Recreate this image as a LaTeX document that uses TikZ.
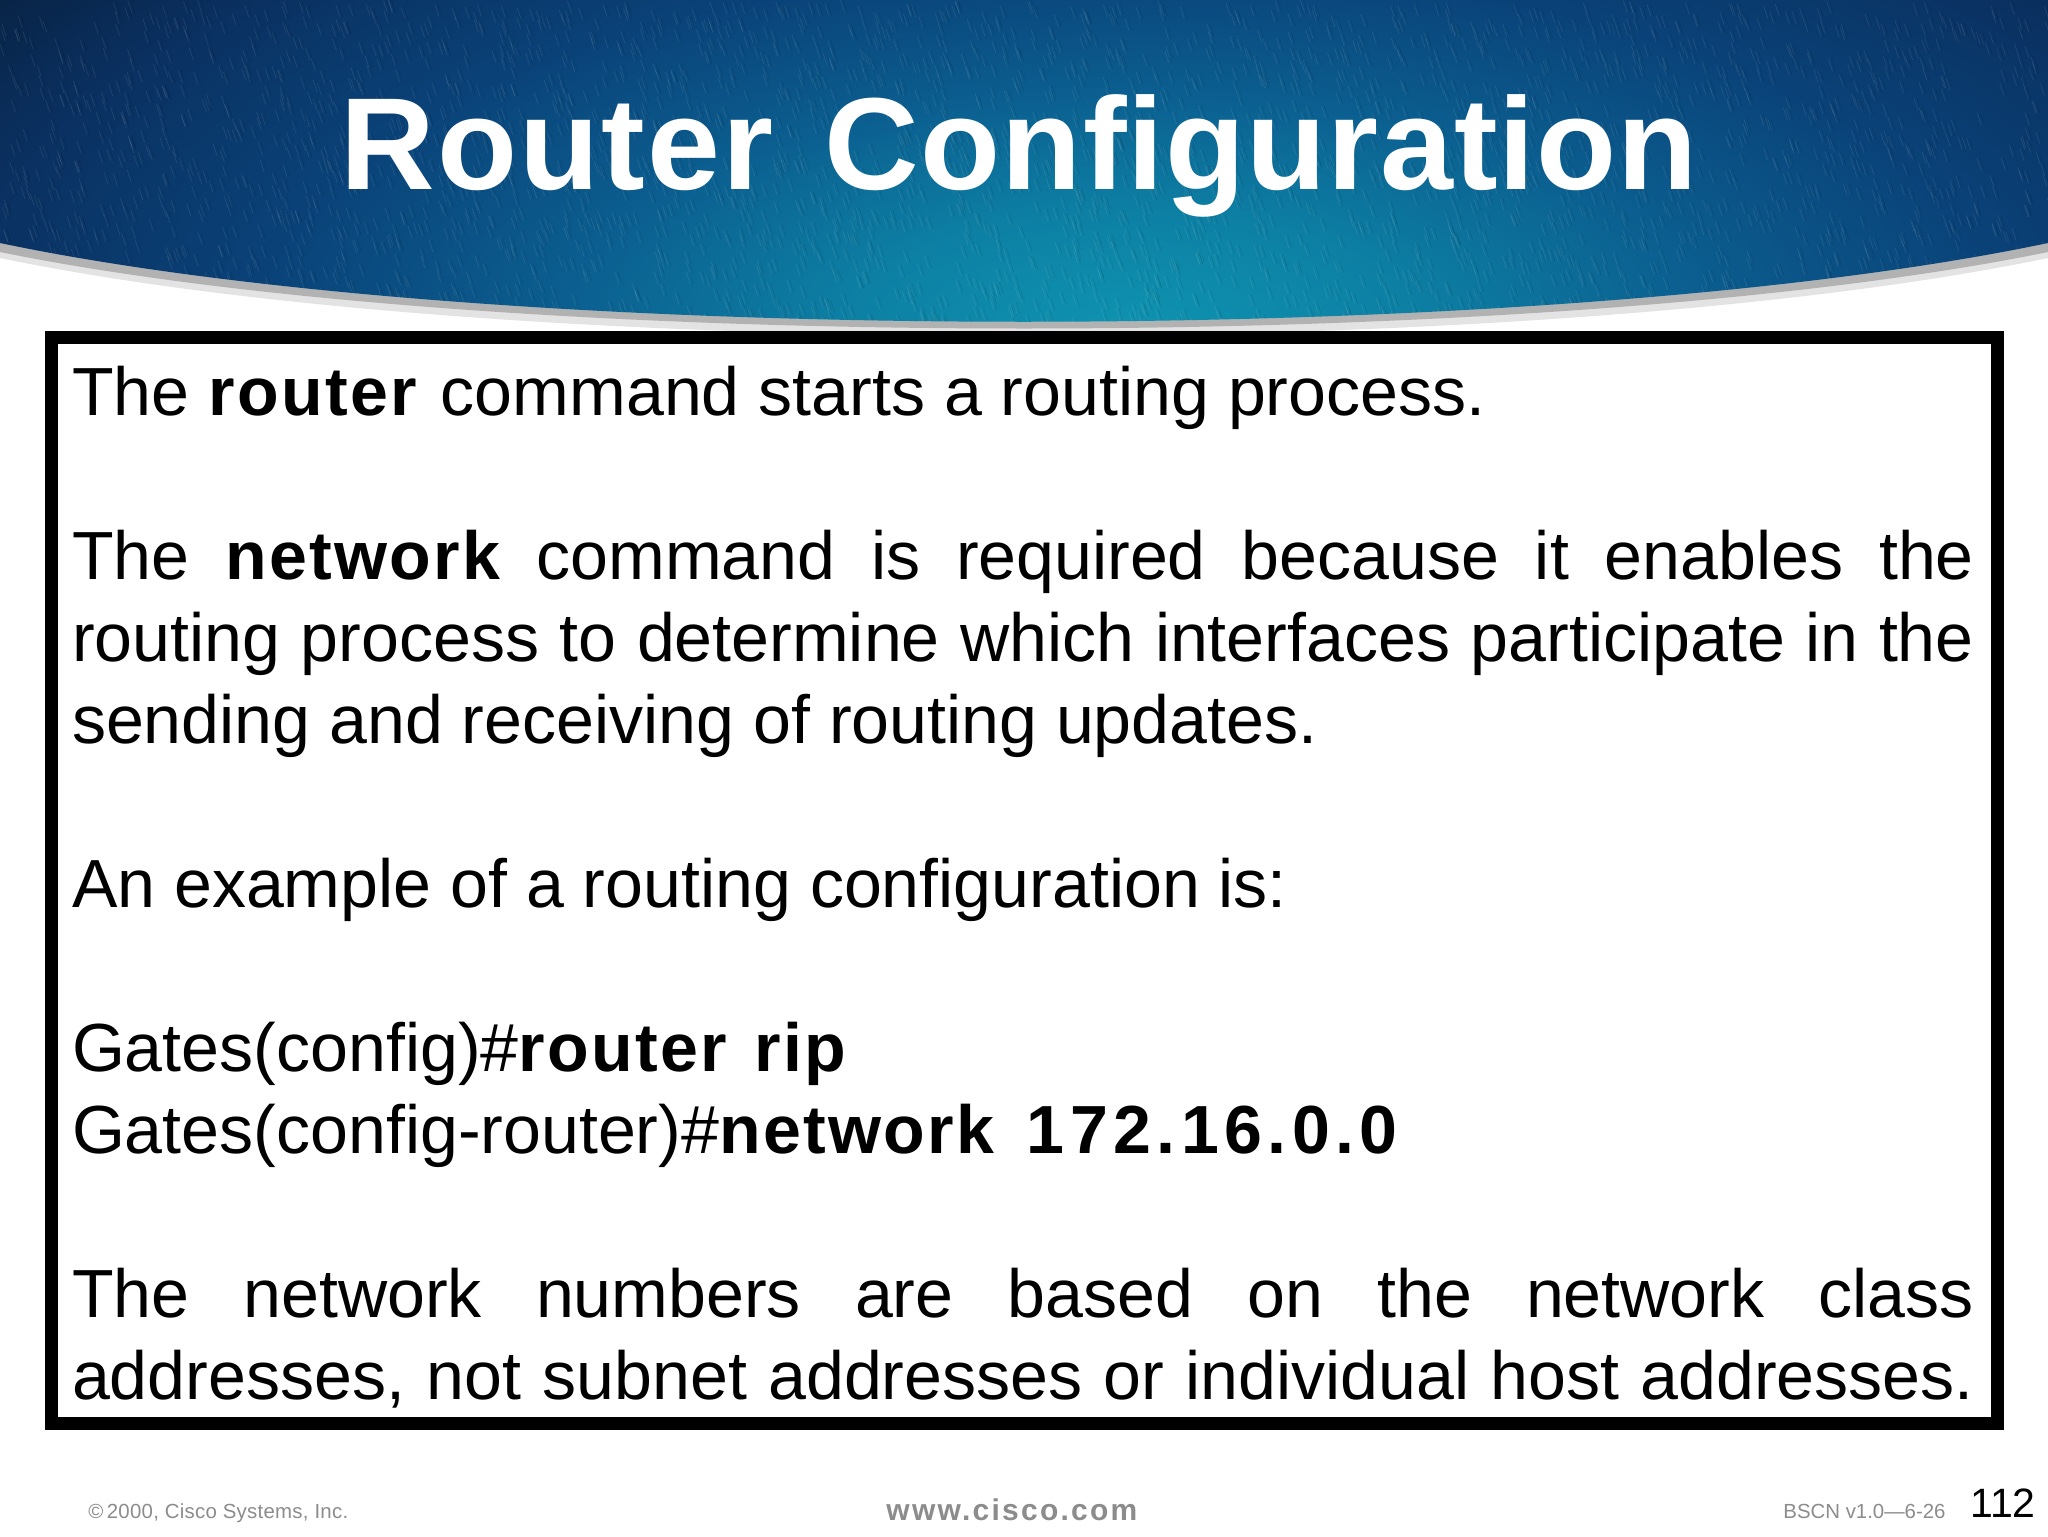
\documentclass[tikz,border=0pt]{standalone}
\usepackage{fontspec}
\setmainfont{Liberation Sans}
\newfontfamily\bodybold[LetterSpace=3.5]{Liberation Sans Bold}
\newfontfamily\bodydigits[LetterSpace=8]{Liberation Sans Bold}
\newfontfamily\titlefont[LetterSpace=1.7]{Liberation Sans Bold}
\newfontfamily\titlefontb[LetterSpace=0.9]{Liberation Sans Bold}
\newfontfamily\wwwfont[LetterSpace=7.5]{Liberation Sans Bold}
\newfontfamily\footfont[LetterSpace=1.3]{Liberation Sans}
\definecolor{bcenter}{HTML}{0F93B0}
\definecolor{bteal}{HTML}{0D80A4}
\definecolor{bmid}{HTML}{0B5C8E}
\definecolor{bnavy}{HTML}{0A4278}
\definecolor{bdeep}{HTML}{0A3060}
\definecolor{bdark}{HTML}{08203F}
\definecolor{footgray}{HTML}{8C8C8C}
\pgfdeclareradialshading{bannershade}{\pgfpoint{0bp}{0bp}}{%
 color(0bp)=(bcenter);color(4.5bp)=(bteal);color(9.5bp)=(bmid);color(14bp)=(bnavy);color(19bp)=(bdeep);color(23bp)=(bdark);color(50bp)=(bdark)}
\tikzset{
 x=0.5pt,y=-0.5pt,
 footer/.style={inner sep=0pt,text=footgray,anchor=base west},
 bodytext/.style={inner sep=0pt,outer sep=0pt,anchor=north west,text width=951pt,align=justify,
   font=\fontsize{34.05}{41}\selectfont},
 weave/.style={line width=0.35pt,opacity=0.09},
}
\newcommand{\bb}[1]{{\bodybold #1}}
\newcommand{\bd}[1]{{\bodydigits #1}}
\begin{document}
\begin{tikzpicture}
\useasboundingbox (0,0) rectangle (2048,1536);
\fill[white] (0,0) rectangle (2048,1536);
% banner shadow
\fill[gray!22] (0,258) .. controls (500,362) and (1548,362) .. (2048,258) -- (2048,240) -- (0,240) -- cycle;
\fill[gray!60] (0,252) .. controls (500,354) and (1548,354) .. (2048,252) -- (2048,240) -- (0,240) -- cycle;
% banner
\begin{scope}
 \clip (0,243) .. controls (500,348) and (1548,348) .. (2048,243) -- (2048,0) -- (0,0) -- cycle;
 \shade[shading=bannershade] (-430,-320) rectangle (2690,980);
 \pgfmathsetseed{7}
 \foreach \i in {1,...,3500}{
   \pgfmathsetmacro{\px}{rnd*2048}
   \pgfmathsetmacro{\py}{rnd*340}
   \draw[weave,white] (\px,\py) -- ++(4,12);
   \draw[weave,black] (\px+3,\py) -- ++(4,12);
 }
\end{scope}
\node[inner sep=0pt,anchor=base,text=white,font=\fontsize{65.5}{70}\titlefont] (title) at (1019,189) {Router\hspace{6.3pt} {\titlefontb Configuration}};
% frame
\node[draw=black,fill=white,line width=6.5pt,outer sep=0pt,minimum width=973pt,minimum height=543pt,inner sep=0pt,anchor=north west] (frame) at (51,337) {};
% body
\node[bodytext] (body) at (72,366) {%
\hyphenpenalty=10000
The \bb{router}\hspace{2.5pt} command starts a routing process.\par
\vspace{41pt}
The \bb{network} command is required because it enables the\linebreak routing process to determine which interfaces participate in the\linebreak sending and receiving of routing updates.\par
\vspace{41pt}
An example of a routing configuration is:\par
\vspace{41pt}
Gates(config)\#\bb{router\hspace{3pt} rip}\par
Gates(config-router)\#\bb{network\hspace{5.5pt} }\bd{172.16.0.0}\par
\vspace{41pt}
The network numbers are based on the network class\linebreak addresses, not subnet addresses or individual host addresses.\hspace*{0pt}\linebreak[4]\par};
% footer
\node[footer,font=\fontsize{10.2}{12}\footfont] (copy) at (88,1518) {©\,2000, Cisco Systems, Inc.};
\node[footer,font=\fontsize{15}{16}\wwwfont] (www) at (886,1520) {www.cisco.com};
\node[footer,font=\fontsize{10.2}{12}\selectfont] (bscn) at (1783,1518) {BSCN v1.0—6-26};
\node[inner sep=0pt,anchor=base east,font=\fontsize{20.5}{22}\selectfont] (page) at (2036,1517) {112};
\end{tikzpicture}
\end{document}
